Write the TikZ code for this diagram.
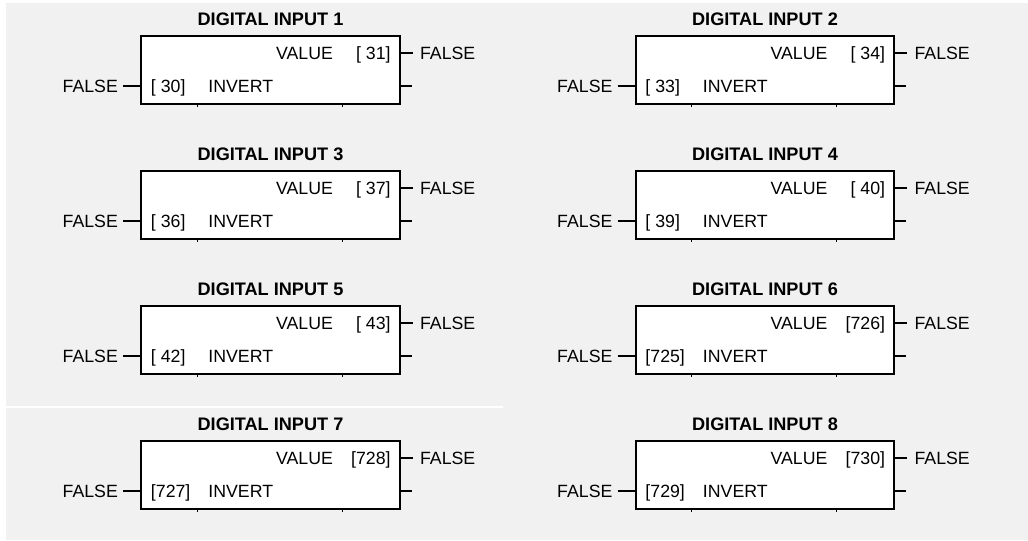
\documentclass[tikz,border=0pt]{standalone}
\usepackage{fontspec}
\setmainfont{Liberation Sans}
\usetikzlibrary{positioning}
\definecolor{panel}{HTML}{F1F1F1}

\tikzset{
    blk/.style={rectangle, draw, line width=1.5pt, fill=white, minimum width=194pt, minimum height=51pt, inner sep=0pt},
    lbl/.style={font=\fontsize{13.3}{15}\selectfont, inner sep=0pt, text height=9.6pt, text depth=0pt},
    ttl/.style={font=\fontsize{13.6}{15}\selectfont\bfseries, inner sep=0pt, text height=9.8pt, text depth=0pt},
    stub/.style={line width=2.2pt},
    inwire/.style={line width=0.8pt},
    tickmark/.style={line width=0.8pt}
}
\newcommand{\digin}[6]{%
    \node[blk] (#1) at (#2,#3) {};
    \node[ttl, above=7.2pt of #1.north] (#1t) {DIGITAL INPUT #4};
    \node[lbl, anchor=east] (#1v) at ([xshift=144.75pt,yshift=-13.5pt]#1.north west) {VALUE};
    \node[lbl, anchor=east] (#1vn) at ([xshift=-7.5pt,yshift=-13.5pt]#1.north east) {#6};
    \node[lbl, anchor=west] (#1in) at ([xshift=7.9pt,yshift=-38.25pt]#1.north west) {#5};
    \node[lbl, anchor=west] (#1i) at ([xshift=51pt,yshift=-38.25pt]#1.north west) {INVERT};
    \node[lbl, anchor=east] (#1f) at ([xshift=-16.5pt,yshift=-38.25pt]#1.north west) {FALSE};
    \node[lbl, anchor=west] (#1r) at ([xshift=14.25pt,yshift=-13.5pt]#1.north east) {FALSE};
    \coordinate (#1x) at ([xshift=8.25pt,yshift=-38.25pt]#1.north east);
    \draw[inwire, shorten <=3.75pt] (#1f.east) -- (#1f.east -| #1.west);
    \draw[stub, shorten >=5.25pt] (#1r.west -| #1.east) -- (#1r.west);
    \draw[stub] (#1x -| #1.east) -- (#1x);
    \draw[tickmark] ([xshift=42.75pt]#1.south west) -- ++(0,-1.5pt);
    \draw[tickmark] ([xshift=151.5pt]#1.south west) -- ++(0,-1.5pt);
}

\begin{document}
\begin{tikzpicture}[x=0.75pt, y=-0.75pt]
\useasboundingbox (0,0) rectangle (1028,540);
\fill[panel] (6,3) rectangle (1028,540);
\fill[white] (0,406) rectangle (503,408);

\digin{din1}{270.5}{70}{1}{[ 30]}{[ 31]}
\digin{din2}{765}{70}{2}{[ 33]}{[ 34]}
\digin{din3}{270.5}{205}{3}{[ 36]}{[ 37]}
\digin{din4}{765}{205}{4}{[ 39]}{[ 40]}
\digin{din5}{270.5}{340}{5}{[ 42]}{[ 43]}
\digin{din6}{765}{340}{6}{[725]}{[726]}
\digin{din7}{270.5}{475}{7}{[727]}{[728]}
\digin{din8}{765}{475}{8}{[729]}{[730]}
\end{tikzpicture}
\end{document}
